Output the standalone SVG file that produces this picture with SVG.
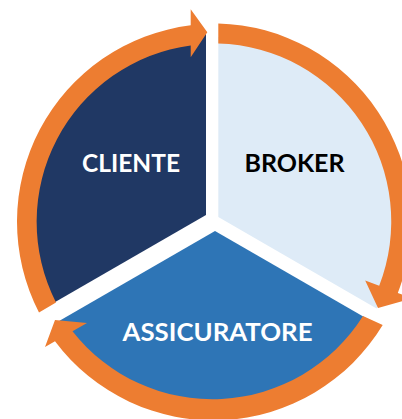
<svg xmlns="http://www.w3.org/2000/svg" width="402" height="419" viewBox="0 0 402 419">
<style>
.lbl{font-family:Lato,"Liberation Sans",Arial,sans-serif;font-weight:bold;font-size:24.3px}
.arrow{fill:#ED7D31;stroke:none}
</style>
<rect width="402" height="419" fill="#FFFFFF"/>
<g id="cliente">
<path d="M206,215 L206,33.1 A189,189 0 0 0 44.8,308.1 Z" fill="#203864"/>
<text class="lbl" x="82" y="171.7" fill="#FFFFFF" textLength="98" lengthAdjust="spacingAndGlyphs">CLIENTE</text>
</g>
<g id="broker">
<path d="M218.3,217 L218.3,37.1 A185,185 0 0 1 376.6,308.4 Z" fill="#DEEBF7"/>
<text class="lbl" x="244.5" y="171.7" fill="#000000" textLength="100" lengthAdjust="spacingAndGlyphs">BROKER</text>
</g>
<g id="assicuratore">
<path d="M215,231 L370.6,320.8 A186,186 0 0 1 56.5,322.5 Z" fill="#2E75B6"/>
<text class="lbl" x="122.5" y="340.7" fill="#FFFFFF" textLength="190" lengthAdjust="spacingAndGlyphs">ASSICURATORE</text>
</g>
<g id="connectors">
<path class="arrow" d="M39,312.5 A198,198 0 0 1 190.7,25.3 L190.7,9.3 L207.3,32.3 L190.7,57.3 L190.7,45.4 A178,178 0 0 0 56,302.5 Z"/>
<path class="arrow" d="M218.3,23.5 A198,198 0 0 1 397.8,293 L412,298.3 L378,308 L365.2,280.4 L379.2,285.8 A178,178 0 0 0 218.3,43.5 Z"/>
<path class="arrow" d="M382.7,325 A198,198 0 0 1 55,341.3 L45,347 L55,320 L87,323 L72.5,331.3 A178,178 0 0 0 363,316 Z"/>
</g>
</svg>
